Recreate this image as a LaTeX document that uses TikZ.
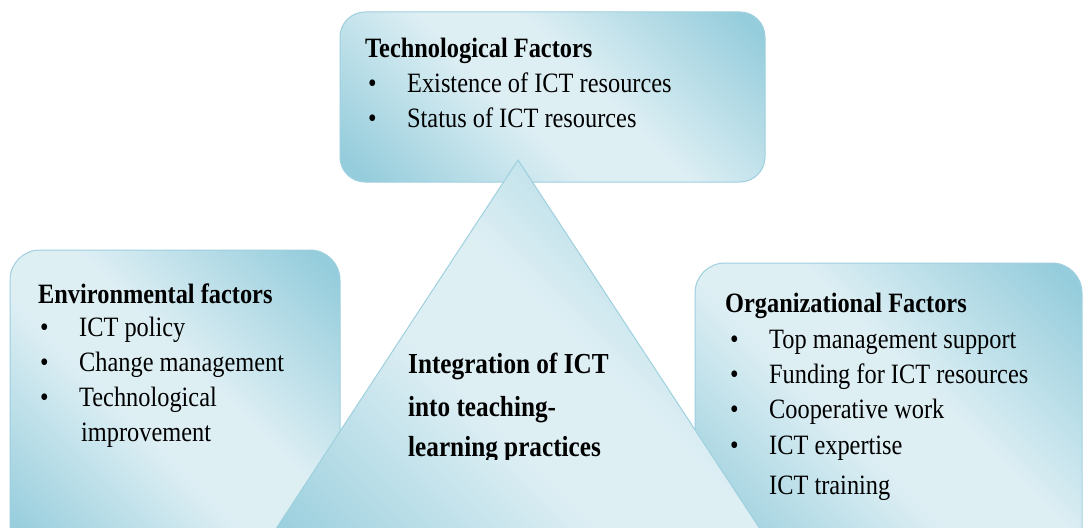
\documentclass[tikz,border=0pt]{standalone}
\usepackage{fontspec}
\setmainfont{Liberation Serif}[FakeStretch=0.87]
\definecolor{boxdark}{RGB}{150,205,220}
\definecolor{boxlight}{RGB}{222,239,244}
\definecolor{boxline}{RGB}{158,208,222}
\pgfdeclareverticalshading{panelshade}{100bp}{color(0bp)=(boxdark); color(18bp)=(boxdark); color(44bp)=(boxlight); color(56bp)=(boxlight); color(82bp)=(boxdark); color(100bp)=(boxdark)}
\tikzset{
  panel/.style={draw=boxline, line width=1pt, shading=panelshade, shading angle=-45},
  head/.style={anchor=base west, inner sep=0pt, font=\bfseries\fontsize{28}{30}\selectfont},
  item/.style={anchor=base west, inner sep=0pt, font=\fontsize{28}{30}\selectfont},
  bighead/.style={head, font=\bfseries\fontsize{29}{30}\selectfont},
}
\newcommand{\bul}[1]{\makebox[39pt][l]{\textbullet}#1}
\begin{document}
\begin{tikzpicture}[x=1pt, y=-1pt]
        \clip (0,0) rectangle (1083,527);
        % panels
        \shade[panel, rounded corners=30pt] (10,250) rectangle (340,560);
        \shade[panel, rounded corners=30pt] (695,263) rectangle (1082,560);
        \shade[panel, rounded corners=25pt] (340,12) rectangle (765,182);
        \shade[panel] (518,160) -- (249,570) -- (787,570) -- cycle;
       % technological
       \node[head] (tech) at (365,57) {Technological Factors};
       \node[item] (tech1) at (368,92) {\bul{Existence of ICT resources}};
       \node[item] (tech2) at (368,127) {\bul{Status of ICT resources}};
       % environmental
       \node[head] (env) at (38,303) {Environmental factors};
       \node[item] (env1) at (40,336) {\bul{ICT policy}};
       \node[item] (env2) at (40,371) {\bul{Change management}};
       \node[item] (env3) at (40,406) {\bul{Technological}};
       \node[item] (env4) at (81,441) {improvement};
       % organizational
       \node[head] (org) at (725,312) {Organizational Factors};
       \node[item] (org1) at (730,348) {\bul{Top management support}};
       \node[item] (org2) at (730,383) {\bul{Funding for ICT resources}};
       \node[item] (org3) at (730,418) {\bul{Cooperative work}};
       \node[item] (org4) at (730,454) {\bul{ICT expertise}};
       \node[item] (org5) at (769,494) {ICT training};
       % integration
       \begin{scope}
        \clip (380,330) rectangle (720,459);
        \node[bighead] (integ1) at (408,373) {Integration of ICT};
        \node[bighead] (integ2) at (408,416) {into teaching-};
        \node[bighead] (integ3) at (408,456) {learning practices};
       \end{scope}
      \end{tikzpicture}
\end{document}
